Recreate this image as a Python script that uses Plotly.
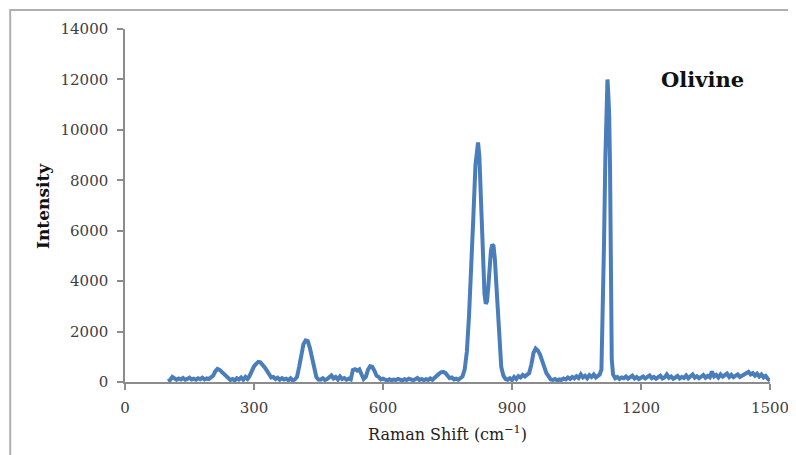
import plotly.graph_objects as go

raman_shift = [
    100, 105, 110, 115, 120, 125, 130, 135, 140, 145, 150, 155, 160, 165, 170, 175, 180, 185, 190, 195,
    200, 205, 210, 215, 220, 225, 230, 235, 240, 245, 250, 255, 260, 265, 270, 275, 280, 285, 290, 295,
    300, 305, 310, 315, 320, 325, 330, 335, 340, 345, 350, 355, 360, 365, 370, 375, 380, 385, 390, 395,
    400, 405, 410, 415, 420, 425, 430, 435, 440, 445, 450, 455, 460, 465, 470, 475, 480, 485, 490, 495,
    500, 505, 510, 515, 520, 525, 530, 535, 540, 545, 550, 555, 560, 565, 570, 575, 580, 585, 590, 595,
    600, 605, 610, 615, 620, 625, 630, 635, 640, 645, 650, 655, 660, 665, 670, 675, 680, 685, 690, 695,
    700, 705, 710, 715, 720, 725, 730, 735, 740, 745, 750, 755, 760, 765, 770, 775, 780, 785, 790, 795,
    800, 805, 810, 815, 818, 821, 824, 827, 830, 833, 836, 839, 842, 845, 848, 851, 854, 857, 860, 863,
    866, 869, 872, 875, 880, 885, 890, 895, 900, 905, 910, 915, 920, 925, 930, 935, 940, 945, 950, 955,
    960, 965, 970, 975, 980, 985, 990, 995, 1000, 1005, 1010, 1015, 1020, 1025, 1030, 1035, 1040, 1045,
    1050, 1055, 1060, 1065, 1070, 1075, 1080, 1085, 1090, 1095, 1100, 1104, 1108, 1111, 1114, 1117, 1120,
    1122, 1124, 1126, 1128, 1130, 1132, 1135, 1140, 1145, 1150, 1155, 1160, 1165, 1170, 1175, 1180, 1185,
    1190, 1195, 1200, 1205, 1210, 1215, 1220, 1225, 1230, 1235, 1240, 1245, 1250, 1255, 1260, 1265, 1270,
    1275, 1280, 1285, 1290, 1295, 1300, 1305, 1310, 1315, 1320, 1325, 1330, 1335, 1340, 1345, 1350, 1355,
    1360, 1365, 1370, 1375, 1380, 1385, 1390, 1395, 1400, 1405, 1410, 1415, 1420, 1425, 1430, 1435, 1440,
    1445, 1450, 1455, 1460, 1465, 1470, 1475, 1480, 1485, 1490, 1495, 1500,
]

intensity = [
    30, 80, 200, 150, 90, 140, 100, 160, 90, 120, 170, 100, 130, 90, 150, 110, 170, 100, 140, 120,
    180, 250, 420, 520, 480, 400, 350, 250, 150, 80, 120, 60, 150, 100, 180, 90, 200, 120, 250, 450,
    620, 720, 800, 780, 700, 580, 450, 300, 180, 200, 120, 170, 90, 150, 100, 130, 70, 150, 60, 100,
    200, 600, 1100, 1500, 1650, 1620, 1350, 900, 450, 200, 100, 90, 150, 80, 120, 200, 260, 140, 200, 100,
    220, 120, 160, 90, 130, 100, 480, 510, 450, 500, 280, 120, 200, 480, 620, 600, 450, 250, 200, 100,
    130, 80, 60, 110, 70, 100, 80, 120, 90, 60, 110, 80, 130, 90, 70, 110, 160, 80, 120, 70,
    110, 80, 140, 90, 180, 260, 320, 380, 400, 360, 260, 150, 180, 100, 130, 90, 150, 220, 500, 1200,
    2600, 4200, 6500, 8600, 9300, 9500, 9000, 7600, 6000, 4600, 3500, 3100, 3200, 3800, 4600, 5200, 5450, 5400, 4900, 4000,
    3000, 2000, 1200, 600, 250, 120, 90, 150, 80, 200, 120, 230, 180, 280, 220, 290, 350, 700, 1150, 1330,
    1250, 1100, 900, 600, 350, 200, 100, 80, 120, 60, 100, 80, 140, 100, 180, 120, 200, 140,
    230, 160, 300, 180, 250, 150, 270, 200, 300, 180, 260, 300, 500, 2500, 5500, 8800, 11600,
    12000, 11400, 10600, 8500, 4500, 900, 300, 150, 200, 120, 180, 150, 220, 130, 190, 250, 140,
    200, 120, 160, 220, 140, 180, 260, 150, 200, 130, 190, 250, 140, 180, 300, 170, 220,
    130, 180, 240, 140, 200, 160, 260, 150, 220, 300, 170, 230, 150, 200, 280, 170, 240,
    190, 420, 220, 280, 180, 300, 210, 250, 330, 200, 280, 190, 240, 300, 200, 260, 310,
    380, 400, 300, 350, 250, 330, 220, 300, 180, 240, 120, 50,
]

x_ticks = [0, 300, 600, 900, 1200, 1500]
y_ticks = [0, 2000, 4000, 6000, 8000, 10000, 12000, 14000]

FONT = "DejaVu Serif"
AXIS_GRAY = "#8c8c8c"

fig = go.Figure()
fig.add_trace(go.Scatter(
    x=raman_shift, y=intensity, mode="lines",
    line=dict(color="#4a7ebb", width=4),
    showlegend=False, hoverinfo="x+y",
))

axis_common = dict(
    showgrid=False, zeroline=False, showline=True, linecolor=AXIS_GRAY, linewidth=1.5,
    ticks="outside", ticklen=6, tickcolor=AXIS_GRAY, tickwidth=1.5,
    tickfont=dict(family=FONT, size=15, color="#404040"),
    automargin=False,
)

fig.update_xaxes(range=[0, 1500], tickvals=x_ticks, ticktext=[str(v) for v in x_ticks],
                 ticklabelstandoff=5, **axis_common)
fig.update_yaxes(range=[0, 14000], tickvals=y_ticks, ticktext=[str(v) for v in y_ticks],
                 ticklabelstandoff=6, **axis_common)

fig.add_annotation(text="Intensity", xref="paper", yref="paper", x=-0.128, y=0.5,
                   textangle=-90, showarrow=False, xanchor="center", yanchor="middle",
                   font=dict(family=FONT, size=17, color="#111111", weight="bold"))
fig.add_annotation(text="Raman Shift (cm<sup>−1</sup>)", xref="paper", yref="paper", x=0.5, y=-0.145,
                   showarrow=False, xanchor="center", yanchor="middle",
                   font=dict(family=FONT, size=16, color="#222222"))
fig.add_annotation(text="Olivine", xref="x", yref="y", x=1342, y=11980,
                   showarrow=False, xanchor="center", yanchor="middle",
                   font=dict(family=FONT, size=21, color="#111111", weight="bold"))

fig.add_shape(type="rect", xref="paper", yref="paper", x0=-0.178, y0=-0.25, x1=1.1, y1=1.054,
              line=dict(color="#b0b0b0", width=2), fillcolor="rgba(0,0,0,0)", layer="below")

# the page body keeps the browser's 8 px margin, so the figure is sized to fit beside it
fig.update_layout(
    width=788, height=447,
    margin=dict(l=117, r=26, t=21, b=73),
    paper_bgcolor="white", plot_bgcolor="white",
    font=dict(family=FONT),
)

fig.write_html("out.html")
